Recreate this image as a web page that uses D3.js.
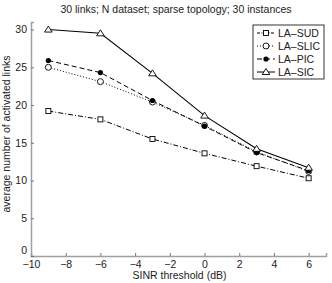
<!DOCTYPE html>
<html>
<head>
<meta charset="utf-8">
<script src="https://cdn.jsdelivr.net/npm/d3@7"></script>
<style>
  body { margin: 0; background: #fff; }
  text { font-family: "Liberation Sans", Arial, sans-serif; }
</style>
</head>
<body>
<div id="chart"></div>
<script>
var svgWidth = 332;
var svgHeight = 283;

var margin = { top: 22, right: 6, bottom: 27, left: 31 };
var width = svgWidth - margin.left - margin.right;
var height = svgHeight - margin.top - margin.bottom;

// data
var thresholds = [-9, -6, -3, 0, 3, 6];
var seriesNames = ["LA\u2013SUD", "LA\u2013SLIC", "LA\u2013PIC", "LA\u2013SIC"];
var sud = [19.2, 18.1, 15.5, 13.6, 11.9, 10.3];
var slic = [25.0, 23.1, 20.4, 17.3, 13.8, 11.2];
var pic = [25.9, 24.3, 20.6, 17.2, 13.7, 11.3];
var sic = [30.0, 29.5, 24.2, 18.6, 14.2, 11.7];
var xTicks = [-10, -8, -6, -4, -2, 0, 2, 4, 6];
var yTicks = [0, 5, 10, 15, 20, 25, 30];

var styles = [
  { dash: "5,2,1,2", marker: "square" },
  { dash: "1,2", marker: "circle" },
  { dash: "5,3", marker: "dot" },
  { dash: null, marker: "triangle" }
];
var allSeries = [sud, slic, pic, sic];

var svg = d3.select("#chart").append("svg")
  .attr("width", svgWidth)
  .attr("height", svgHeight);

var chartGroup = svg.append("g")
  .attr("transform", `translate(${margin.left}, ${margin.top})`);

var x = d3.scaleLinear().domain([-10, 7]).range([0, width]);
var y = d3.scaleLinear().domain([0, 31]).range([height, 0]);

// axes (inward ticks, grey lines)
var bottomAxis = d3.axisBottom(x).tickValues(xTicks).tickSize(-3).tickPadding(5)
  .tickFormat(d => d < 0 ? "\u2212" + Math.abs(d) : d);
var leftAxis = d3.axisLeft(y).tickValues(yTicks).tickSize(-3).tickPadding(4);

var xAxis = chartGroup.append("g")
  .attr("transform", `translate(0, ${height})`)
  .call(bottomAxis);
var yAxis = chartGroup.append("g").call(leftAxis);

[xAxis, yAxis].forEach(function(a) {
  a.select(".domain").attr("stroke", "#a0a0a0").attr("stroke-width", 1.5);
  a.selectAll(".tick line").attr("stroke", "#777");
  a.selectAll(".tick text").attr("font-size", 10.5).attr("fill", "#222");
});
xAxis.selectAll(".tick text").attr("dy", "0.65em");
// keep the y "0" clear of the x "-10"
yAxis.selectAll(".tick text").filter(d => d === 0).attr("dy", "-0.2em");

var line = d3.line()
  .x((d, i) => x(thresholds[i]))
  .y(d => y(d));

function drawMarker(g, type, cx, cy) {
  if (type === "square") {
    g.append("rect").attr("x", cx - 2.5).attr("y", cy - 2.5)
      .attr("width", 5).attr("height", 5)
      .attr("fill", "#fff").attr("stroke", "#000").attr("stroke-width", 0.9);
  } else if (type === "circle") {
    g.append("circle").attr("cx", cx).attr("cy", cy).attr("r", 3)
      .attr("fill", "#fff").attr("stroke", "#000").attr("stroke-width", 0.9);
  } else if (type === "dot") {
    g.append("circle").attr("cx", cx).attr("cy", cy).attr("r", 2.6)
      .attr("fill", "#000");
  } else {
    g.append("path")
      .attr("d", `M${cx},${cy - 3.5}L${cx + 3.8},${cy + 2.5}L${cx - 3.8},${cy + 2.5}Z`)
      .attr("fill", "#fff").attr("stroke", "#000").attr("stroke-width", 0.9);
  }
}

allSeries.forEach(function(vals, k) {
  var path = chartGroup.append("path")
    .datum(vals)
    .attr("fill", "none")
    .attr("stroke", "#000")
    .attr("stroke-width", k === 3 ? 1.1 : 1)
    .attr("d", line);
  if (styles[k].dash) path.attr("stroke-dasharray", styles[k].dash);
});

allSeries.forEach(function(vals, k) {
  var mg = chartGroup.append("g");
  vals.forEach(function(v, i) {
    drawMarker(mg, styles[k].marker, x(thresholds[i]), y(v));
  });
});

// title and axis labels
svg.append("text")
  .attr("x", 176).attr("y", 13)
  .attr("text-anchor", "middle")
  .attr("font-size", 10.5)
  .attr("fill", "#222")
  .text("30 links; N dataset; sparse topology; 30 instances");

svg.append("text")
  .attr("x", margin.left + width / 2 + 1).attr("y", 279)
  .attr("text-anchor", "middle")
  .attr("font-size", 10.5)
  .attr("fill", "#222")
  .text("SINR threshold (dB)");

svg.append("text")
  .attr("transform", "translate(10, 134) rotate(-90)")
  .attr("text-anchor", "middle")
  .attr("font-size", 10.5)
  .attr("fill", "#222")
  .text("average number of activated links");

// legend
var legend = svg.append("g").attr("transform", "translate(253, 25)");
legend.append("rect")
  .attr("width", 71).attr("height", 54)
  .attr("fill", "#fff").attr("stroke", "#000").attr("stroke-width", 0.8);

seriesNames.forEach(function(name, k) {
  var ly = 8 + k * 13;
  var seg = legend.append("line")
    .attr("x1", 4).attr("x2", 22).attr("y1", ly).attr("y2", ly)
    .attr("stroke", "#000").attr("stroke-width", 1);
  if (styles[k].dash) seg.attr("stroke-dasharray", k === 0 ? "3,1.5,1,1.5" : styles[k].dash);
  drawMarker(legend, styles[k].marker, 13, ly);
  legend.append("text")
    .attr("x", 25).attr("y", ly + 4)
    .attr("font-size", 10.5)
    .attr("fill", "#222")
    .text(name);
});
</script>
</body>
</html>
